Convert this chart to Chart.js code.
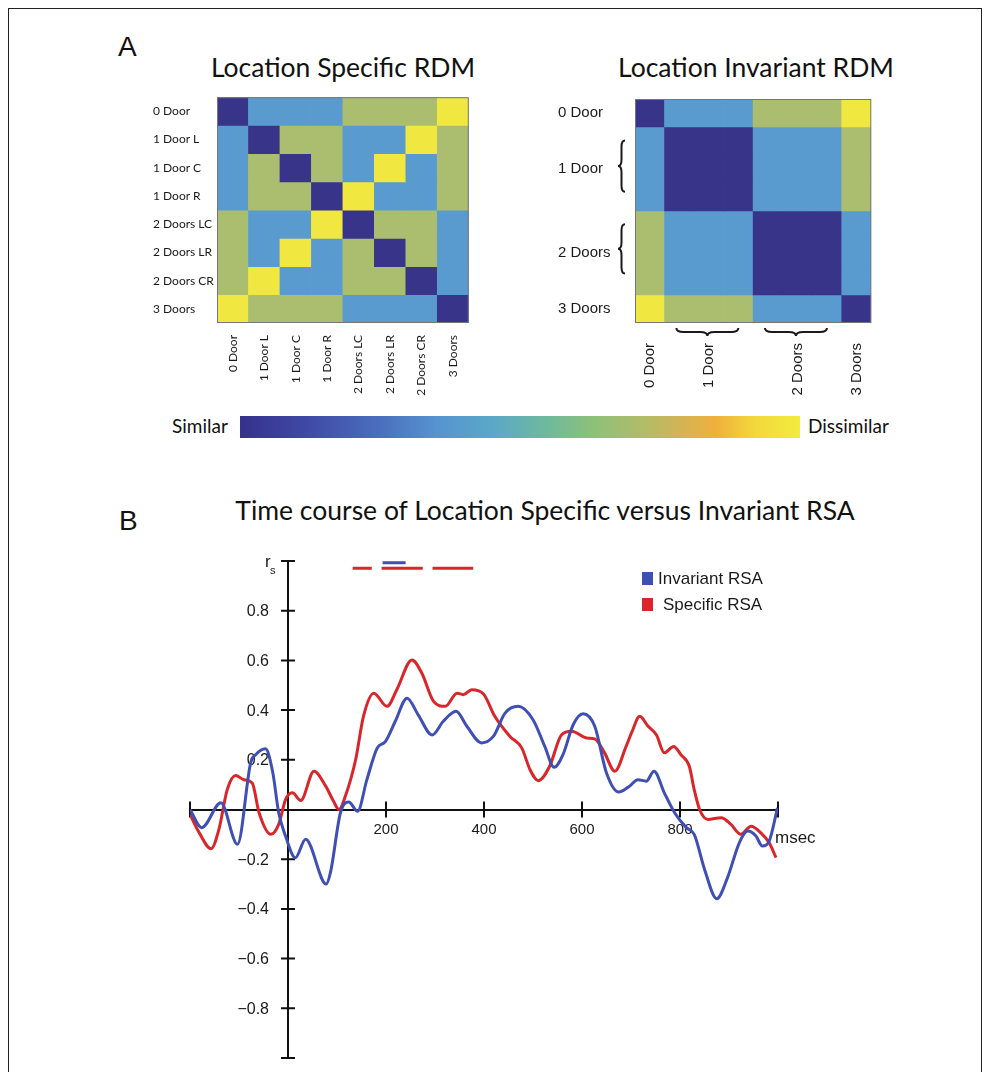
<!DOCTYPE html>
<html>
<head>
<meta charset="utf-8">
<script src="https://cdn.jsdelivr.net/npm/chart.js@4.4.1/dist/chart.umd.min.js"></script>
<style>
  body { margin: 0; background: #fff; width: 990px; height: 1072px; position: relative; overflow: hidden; }
  .frame { position: absolute; left: 8px; top: 8px; width: 972px; height: 1100px; border: 1.5px solid #222; }
  .txt { position: absolute; color: #111; white-space: nowrap; }
  .panel { font-family: "Liberation Sans", Arial, sans-serif; font-size: 28px; }
  .title { font-family: Lato, "Open Sans", sans-serif; font-size: 26.5px; text-align: center; }
  .cb { font-family: Lato, "Open Sans", sans-serif; font-size: 19px; }
  canvas { position: absolute; }
</style>
</head>
<body>
<div class="frame"></div>
<div class="txt panel" style="left:118px; top:31px;">A</div>
<div class="txt panel" style="left:119px; top:505px;">B</div>
<div class="txt title" style="left:193px; width:300px; top:51px;">Location Specific RDM</div>
<div class="txt title" style="left:606px; width:300px; top:51px;">Location Invariant RDM</div>
<div class="txt title" style="left:195px; width:700px; top:494px;">Time course of Location Specific versus Invariant RSA</div>
<div class="txt cb" style="left:172px; top:414px;">Similar</div>
<div class="txt cb" style="left:808px; top:414px;">Dissimilar</div>

<canvas id="rdmSpecific" width="330" height="320" style="left:150px; top:90px;"></canvas>
<canvas id="rdmInvariant" width="340" height="320" style="left:555px; top:90px;"></canvas>
<canvas id="colorbar" width="560" height="22" style="left:240px; top:416px;"></canvas>
<canvas id="timecourse" width="700" height="532" style="left:150px; top:540px;"></canvas>

<script>
// ---- RDM data (0 = same, 1 = close, 2 = far, 3 = most dissimilar)
const specificLabels = ['0 Door', '1 Door L', '1 Door C', '1 Door R', '2 Doors LC', '2 Doors LR', '2 Doors CR', '3 Doors'];
const invariantLabels = ['0 Door', '', '1 Door', '', '', '2 Doors', '', '3 Doors'];

const specificRdm = [
    [0, 1, 1, 1, 2, 2, 2, 3],
    [1, 0, 2, 2, 1, 1, 3, 2],
    [1, 2, 0, 2, 1, 3, 1, 2],
    [1, 2, 2, 0, 3, 1, 1, 2],
    [2, 1, 1, 3, 0, 2, 2, 1],
    [2, 1, 3, 1, 2, 0, 2, 1],
    [2, 3, 1, 1, 2, 2, 0, 1],
    [3, 2, 2, 2, 1, 1, 1, 0]
];
const invariantRdm = [
    [0, 1, 1, 1, 2, 2, 2, 3],
    [1, 0, 0, 0, 1, 1, 1, 2],
    [1, 0, 0, 0, 1, 1, 1, 2],
    [1, 0, 0, 0, 1, 1, 1, 2],
    [2, 1, 1, 1, 0, 0, 0, 1],
    [2, 1, 1, 1, 0, 0, 0, 1],
    [2, 1, 1, 1, 0, 0, 0, 1],
    [3, 2, 2, 2, 1, 1, 1, 0]
];
const rdmColors = ['#37348a', '#5a9bcf', '#abbe6f', '#f0e840'];

// ---- colour bar stops
const colorbarPos = [0, 0.12, 0.25, 0.35, 0.45, 0.55, 0.63, 0.72, 0.79, 0.85, 0.92, 1];
const colorbarColors = ['#35318c', '#3f4aa6', '#4a6fbd', '#5693d0', '#5aa8c8', '#6fba9c',
    '#8dc07a', '#b1bc68', '#d4b455', '#f0b03c', '#f2d83c', '#f3ec3e'];

// ---- time course (ms, Spearman r)
const invariantMs = [-200, -176, -137, -103, -76, -66, -46, -31, -19, -5, 15, 36, 78, 87, 107, 124, 142, 161, 182, 199,
    219, 243, 266, 294, 317, 343, 365, 395, 419, 443, 470, 500, 524, 543, 561, 582, 602, 626, 650, 675,
    697, 714, 731, 747, 768, 789, 813, 829, 850, 875, 897, 921, 938, 955, 968, 982, 999];
const invariantRs = [0.0, -0.073, 0.027, -0.14, 0.19, 0.22, 0.244, 0.148, -0.013, -0.107, -0.194, -0.12, -0.30, -0.25, -0.013, 0.03, -0.007, 0.12, 0.247, 0.274,
    0.355, 0.448, 0.38, 0.30, 0.355, 0.395, 0.335, 0.268, 0.294, 0.388, 0.415, 0.361, 0.254, 0.17, 0.22, 0.341, 0.385, 0.335, 0.147, 0.07,
    0.094, 0.12, 0.114, 0.154, 0.067, -0.013, -0.073, -0.10, -0.24, -0.359, -0.274, -0.134, -0.087, -0.107, -0.147, -0.127, 0.007];

const specificMs = [-200, -181, -157, -141, -124, -107, -90, -73, -59, -35, -19, -5, 9, 26, 53, 77, 93, 104, 117, 138,
    154, 175, 202, 222, 253, 273, 297, 321, 345, 358, 375, 399, 422, 453, 477, 494, 511, 534, 558, 579,
    609, 626, 646, 667, 690, 701, 718, 734, 752, 768, 787, 802, 819, 829, 840, 857, 884, 904, 924, 945,
    965, 982, 996];
const specificRs = [-0.02, -0.094, -0.158, -0.08, 0.08, 0.137, 0.12, 0.107, -0.013, -0.10, -0.06, 0.04, 0.067, 0.036, 0.154, 0.094, 0.033, 0.0, 0.053, 0.20,
    0.375, 0.468, 0.415, 0.482, 0.602, 0.549, 0.435, 0.415, 0.468, 0.462, 0.482, 0.465, 0.375, 0.294, 0.248, 0.16, 0.116, 0.174, 0.30, 0.315,
    0.288, 0.284, 0.228, 0.154, 0.254, 0.308, 0.375, 0.337, 0.30, 0.228, 0.254, 0.22, 0.174, 0.08, 0.0, -0.04, -0.033, -0.06, -0.10, -0.067,
    -0.094, -0.134, -0.194];

// significant windows (ms) drawn above the curves
const specificSig = [[132, 171], [191, 275], [295, 378]];
const invariantSig = [[193, 240]];
const specificSigLevel = 0.971;
const invariantSigLevel = 0.993;

const BLUE = '#3f4fb3';
const RED = '#d9262b';
const ARIAL = '"Liberation Sans", Arial, sans-serif';

function toPoints(xs, ys) {
    return xs.map((x, i) => ({ x: x, y: ys[i] }));
}

function sigPoints(windows, level) {
    const pts = [];
    windows.forEach(([a, b]) => {
        pts.push({ x: a, y: level }, { x: b, y: level }, { x: b, y: null });
    });
    return pts;
}

// curly brace along a segment, bulging to the local +y side
function drawBrace(ctx, x1, y1, x2, y2, w) {
    const L = Math.hypot(x2 - x1, y2 - y1);
    const h = w / 2;
    const q = Math.min(w * 0.9, L / 4);
    ctx.save();
    ctx.translate(x1, y1);
    ctx.rotate(Math.atan2(y2 - y1, x2 - x1));
    ctx.beginPath();
    ctx.moveTo(0, 0);
    ctx.quadraticCurveTo(0, h, q, h);
    ctx.lineTo(L / 2 - q, h);
    ctx.quadraticCurveTo(L / 2, h, L / 2, w);
    ctx.quadraticCurveTo(L / 2, h, L / 2 + q, h);
    ctx.lineTo(L - q, h);
    ctx.quadraticCurveTo(L, h, L, 0);
    ctx.stroke();
    ctx.restore();
}

const frameBox = {
    id: 'frameBox',
    afterDatasetsDraw(chart) {
        const { ctx, chartArea: a } = chart;
        ctx.save();
        ctx.strokeStyle = '#777';
        ctx.lineWidth = 1;
        ctx.strokeRect(a.left + 0.5, a.top + 0.5, a.right - a.left - 1, a.bottom - a.top - 1);
        ctx.restore();
    }
};

const braces = {
    id: 'braces',
    afterDraw(chart) {
        const { ctx, scales: { x, y }, chartArea: a } = chart;
        ctx.save();
        ctx.strokeStyle = '#1a1a1a';
        ctx.lineWidth = 2;
        // row groups (left side)
        [[1.48, 3.31], [4.47, 6.23]].forEach(([r0, r1]) => {
            drawBrace(ctx, a.left - 10, y.getPixelForValue(r0), a.left - 10, y.getPixelForValue(r1), 7);
        });
        // column groups (below)
        [[0.9, 3.0], [3.9, 6.0]].forEach(([c0, c1]) => {
            drawBrace(ctx, x.getPixelForValue(c0), a.bottom + 5, x.getPixelForValue(c1), a.bottom + 5, 8);
        });
        ctx.restore();
    }
};

function makeRdm(id, matrix, labels, font, yWidth, xPad, padding, extraPlugins) {
    const datasets = matrix.map((row, r) => ({
        data: row.map(() => [r, r + 1]),
        backgroundColor: row.map(v => rdmColors[v]),
        borderWidth: 0,
        grouped: false,
        categoryPercentage: 1,
        barPercentage: 1
    }));
    return new Chart(document.getElementById(id), {
        type: 'bar',
        data: { labels: labels, datasets: datasets },
        options: {
            responsive: false,
            animation: false,
            events: [],
            layout: { padding: padding },
            plugins: { legend: { display: false }, tooltip: { enabled: false } },
            scales: {
                x: {
                    type: 'category',
                    grid: { display: false, drawTicks: false },
                    border: { display: false },
                    afterFit: s => { s.height = 87; },
                    ticks: {
                        autoSkip: false, minRotation: 90, maxRotation: 90,
                        padding: xPad, color: '#1a1a1a', font: font
                    }
                },
                y: {
                    type: 'linear', min: 0, max: 8, reverse: true,
                    grid: { display: false, drawTicks: false },
                    border: { display: false },
                    afterFit: s => { s.width = yWidth; },
                    afterBuildTicks: s => { s.ticks = labels.map((_, i) => ({ value: i + 0.5 })); },
                    ticks: {
                        crossAlign: 'far', padding: 0, color: '#1a1a1a', font: font,
                        callback: v => labels[Math.floor(v)]
                    }
                }
            }
        },
        plugins: [frameBox].concat(extraPlugins)
    });
}

makeRdm('rdmSpecific', specificRdm, specificLabels, { family: 'Lato, "Open Sans", sans-serif', size: 12 },
    64, 12, { left: 3, top: 6, right: 9, bottom: 0 }, []);
makeRdm('rdmInvariant', invariantRdm, invariantLabels, { family: ARIAL, size: 15 },
    77, 20, { left: 3, top: 6, right: 8, bottom: 0 }, [braces]);

// ---- colour bar
new Chart(document.getElementById('colorbar'), {
    type: 'bar',
    data: {
        labels: [''],
        datasets: [{
            data: [[0, 1]],
            borderWidth: 0,
            categoryPercentage: 1,
            barPercentage: 1,
            backgroundColor: (c) => {
                const area = c.chart.chartArea;
                if (!area) return colorbarColors[0];
                const g = c.chart.ctx.createLinearGradient(area.left, 0, area.right, 0);
                colorbarPos.forEach((p, i) => g.addColorStop(p, colorbarColors[i]));
                return g;
            }
        }]
    },
    options: {
        indexAxis: 'y',
        responsive: false,
        animation: false,
        events: [],
        layout: { padding: 0 },
        plugins: { legend: { display: false }, tooltip: { enabled: false } },
        scales: {
            x: { min: 0, max: 1, display: false },
            y: { display: false }
        }
    }
});

// ---- time course
const crossAxes = {
    id: 'crossAxes',
    beforeDatasetsDraw(chart) {
        const { ctx, scales: { x, y } } = chart;
        const x0 = x.getPixelForValue(0);
        const y0 = y.getPixelForValue(0);
        ctx.save();
        ctx.strokeStyle = '#111';
        ctx.lineWidth = 2;
        ctx.beginPath();
        x.ticks.forEach(t => {
            if (t.value === 0) return;
            const px = x.getPixelForValue(t.value);
            ctx.moveTo(px, y0 - 8);
            ctx.lineTo(px, y0 + 8);
        });
        y.ticks.forEach(t => {
            if (Math.abs(t.value) < 1e-9) return;
            const py = y.getPixelForValue(t.value);
            ctx.moveTo(x0 - 7, py);
            ctx.lineTo(x0 + 7, py);
        });
        ctx.stroke();

        // y tick labels
        ctx.fillStyle = '#1a1a1a';
        ctx.font = '16px ' + ARIAL;
        ctx.textAlign = 'right';
        ctx.textBaseline = 'middle';
        y.ticks.forEach(t => {
            const v = t.value;
            if (Math.abs(v) < 1e-9 || Math.abs(Math.abs(v) - 1) < 1e-9) return;
            const txt = (v < 0 ? '\u2212' : '') + Math.abs(v).toFixed(1);
            ctx.fillText(txt, x0 - 19, y.getPixelForValue(v) + 1);
        });

        // axis names
        ctx.textAlign = 'left';
        ctx.textBaseline = 'alphabetic';
        ctx.font = '17px ' + ARIAL;
        ctx.fillText('r', x0 - 23, y.getPixelForValue(1) + 6);
        ctx.font = '11px ' + ARIAL;
        ctx.fillText('s', x0 - 18, y.getPixelForValue(1) + 13);
        ctx.font = '17px ' + ARIAL;
        ctx.fillText('msec', x.getPixelForValue(1000) - 3, y0 + 33);
        ctx.restore();
    }
};

const boxLegend = {
    id: 'boxLegend',
    afterDraw(chart) {
        const { ctx } = chart;
        const items = chart.data.datasets.filter(d => d.inLegend);
        ctx.save();
        ctx.font = '17px ' + ARIAL;
        ctx.textBaseline = 'middle';
        ctx.textAlign = 'left';
        items.forEach((d, i) => {
            const top = 32 + i * 26;
            ctx.fillStyle = d.borderColor;
            ctx.fillRect(492, top, 11, 13);
            ctx.fillStyle = '#1a1a1a';
            ctx.fillText(d.label, 508 + i * 5, top + 7);
        });
        ctx.restore();
    }
};

new Chart(document.getElementById('timecourse'), {
    type: 'line',
    data: {
        datasets: [
            {
                label: 'Invariant RSA', inLegend: true,
                data: toPoints(invariantMs, invariantRs),
                borderColor: BLUE, borderWidth: 3, pointRadius: 0,
                cubicInterpolationMode: 'monotone'
            },
            {
                label: 'Specific RSA', inLegend: true,
                data: toPoints(specificMs, specificRs),
                borderColor: RED, borderWidth: 3, pointRadius: 0,
                cubicInterpolationMode: 'monotone'
            },
            {
                label: 'Specific significant',
                data: sigPoints(specificSig, specificSigLevel),
                borderColor: RED, borderWidth: 3, pointRadius: 0, spanGaps: false, clip: false
            },
            {
                label: 'Invariant significant',
                data: sigPoints(invariantSig, invariantSigLevel),
                borderColor: BLUE, borderWidth: 3, pointRadius: 0, spanGaps: false, clip: false
            }
        ]
    },
    options: {
        responsive: false,
        animation: false,
        events: [],
        layout: { padding: { left: 40, top: 21, right: 72, bottom: 14 } },
        plugins: { legend: { display: false }, tooltip: { enabled: false } },
        scales: {
            x: {
                type: 'linear', min: -200, max: 1000,
                position: { y: 0 },
                afterFit: s => { s.height = 0; },
                grid: { display: false, drawTicks: false },
                border: { color: '#111', width: 2 },
                ticks: {
                    stepSize: 200, padding: 11, maxRotation: 0, autoSkip: false,
                    color: '#1a1a1a', font: { family: ARIAL, size: 15 },
                    callback: v => (v > 0 && v < 1000) ? String(v) : ''
                }
            },
            y: {
                type: 'linear', min: -1, max: 1,
                position: { x: 0 },
                afterFit: s => { s.width = 0; },
                grid: { display: false, drawTicks: false },
                border: { color: '#111', width: 2 },
                ticks: { stepSize: 0.2, display: false }
            }
        }
    },
    plugins: [crossAxes, boxLegend]
});
</script>
</body>
</html>
